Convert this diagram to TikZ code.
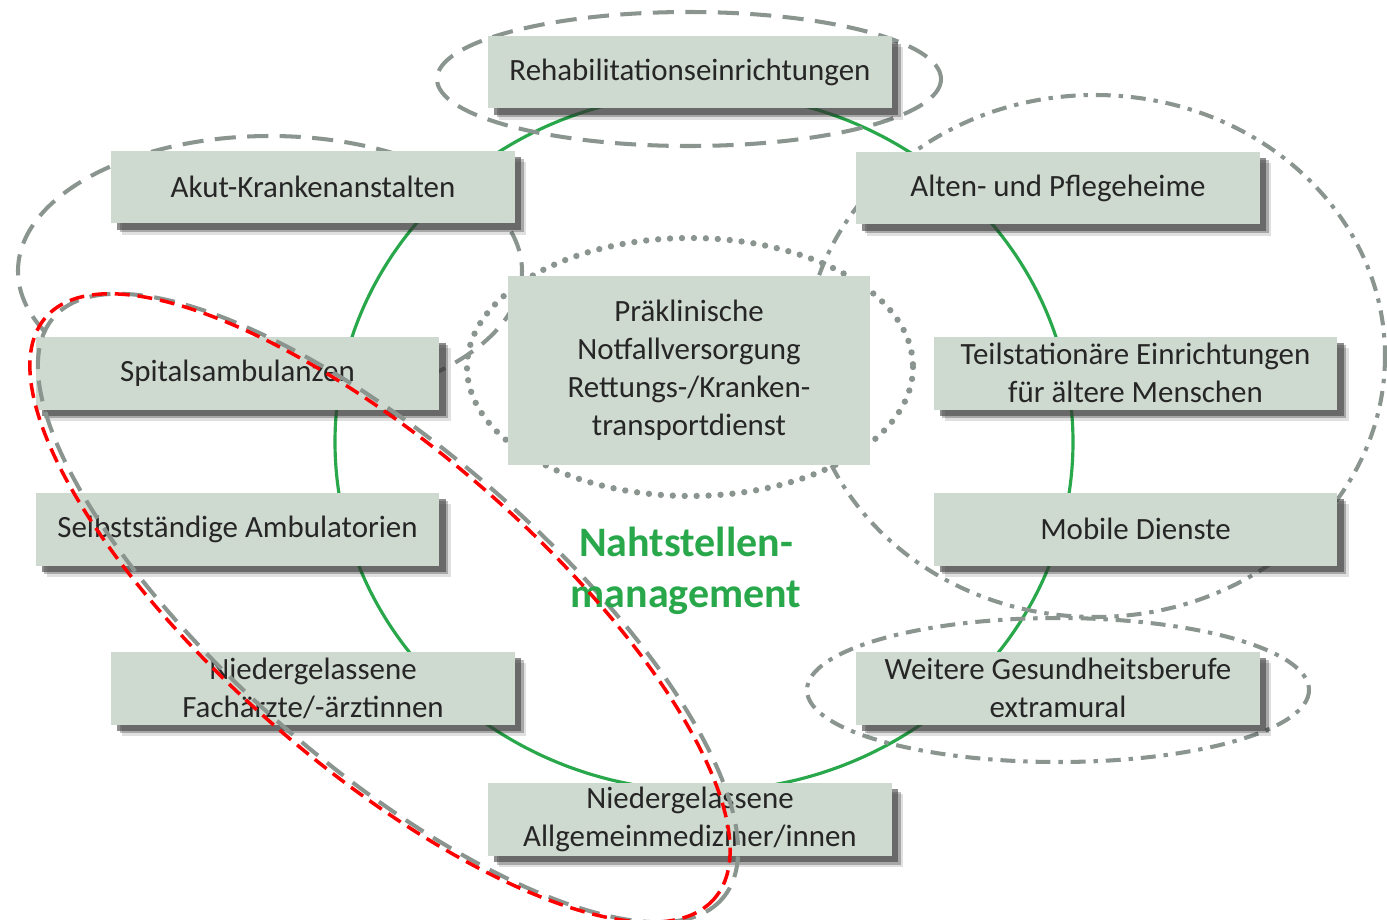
\documentclass[tikz,border=0pt]{standalone}
\usepackage{fontspec}
\setmainfont{Carlito}
\usetikzlibrary{shadows}
\definecolor{boxgray}{RGB}{206,217,207}
\definecolor{ringgreen}{RGB}{40,167,75}
\definecolor{linegray}{RGB}{139,149,143}
\definecolor{textgray}{RGB}{38,38,38}
\tikzset{
  plain/.style={rectangle,fill=boxgray,text=textgray,align=center,inner sep=0pt,
                minimum width=8.08cm,minimum height=1.46cm,
                font=\fontsize{17.6}{21.6}\selectfont},
  box/.style={plain,
              general shadow={fill=black,opacity=.12,shadow xshift=6.5pt,shadow yshift=-6.5pt},
              general shadow={fill=black,opacity=.25,shadow xshift=5pt,shadow yshift=-5pt},
              general shadow={fill=black!75,opacity=.6,shadow xshift=3.5pt,shadow yshift=-3.5pt}},
  pbox/.style={plain,minimum width=7.24cm,minimum height=3.78cm},
  ring/.style={draw=ringgreen,line width=1.8pt},
  dashring/.style={draw=linegray,line width=2.3pt,dash pattern=on 12pt off 6.5pt},
  dashdotring/.style={draw=linegray,line width=2.3pt,
                      dash pattern=on 8.5pt off 4.5pt on 2.5pt off 4.5pt},
  dotring/.style={draw=linegray,line width=3.6pt,line cap=round,dash pattern=on 0pt off 6.8pt},
  redring/.style={draw=red,line width=2pt,dash pattern=on 8.5pt off 4.5pt},
  mgmt/.style={text=ringgreen,align=center,font=\bfseries\fontsize{23.9}{29}\selectfont},
}

\begin{document}
\begin{tikzpicture}[x=0.02cm,y=-0.02cm]
  \fill[white] (0,0) rectangle (1387,920);
  \useasboundingbox (0,0) rectangle (1387,920);
  % ring behind everything
  \draw[ring] (704,442) ellipse [x radius=369, y radius=349];
  % groupings that sit behind the boxes
  \draw[dashring] (689,79) ellipse [x radius=252, y radius=67];
  \draw[dashring] (270,271) ellipse [x radius=252, y radius=135];
  \draw[dashdotring] (1095,356) ellipse [x radius=290, y radius=261];
  \draw[dotring] (690,367) ellipse [x radius=223, y radius=129];
  \draw[dashdotring] (1058,690) ellipse [x radius=251, y radius=72];

  \node[box] (reha)    at (690,72)    {Rehabilitationseinrichtungen};
  \node[box] (akut)    at (313,187)   {Akut-Krankenanstalten};
  \node[box] (alten)   at (1058,188)  {Alten- und Pflegeheime};
  \node[box] (spital)  at (237.5,373) {Spitalsambulanzen};
  \node[box] (teil)    at (1135.5,373) {Teilstationäre Einrichtungen\\für ältere Menschen};
  \node[pbox] (prae)   at (689,370.5) {Präklinische\\Notfallversorgung\\Rettungs-/Kranken-\\transportdienst};
  \node[box] (selbst)  at (237.5,529) {Selbstständige Ambulatorien};
  \node[box] (mobil)   at (1135.5,529) {Mobile Dienste};
  \node[box] (fach)    at (313,688)   {Niedergelassene\\Fachärzte/-ärztinnen};
  \node[box] (weitere) at (1058,688)  {Weitere Gesundheitsberufe\\extramural};
  \node[box] (allg)    at (690,819.5) {Niedergelassene\\Allgemeinmediziner/innen};

  % ambulant group drawn over the boxes
  \draw[dashring,rotate around={-41:(388,608)}] (388,608) ellipse [x radius=443, y radius=158];
  \node[mgmt] (naht) at (686,571) {Nahtstellen-\\management};
  \draw[redring,rotate around={-41:(380,608)}] (380,608) ellipse [x radius=443, y radius=158];
\end{tikzpicture}
\end{document}
